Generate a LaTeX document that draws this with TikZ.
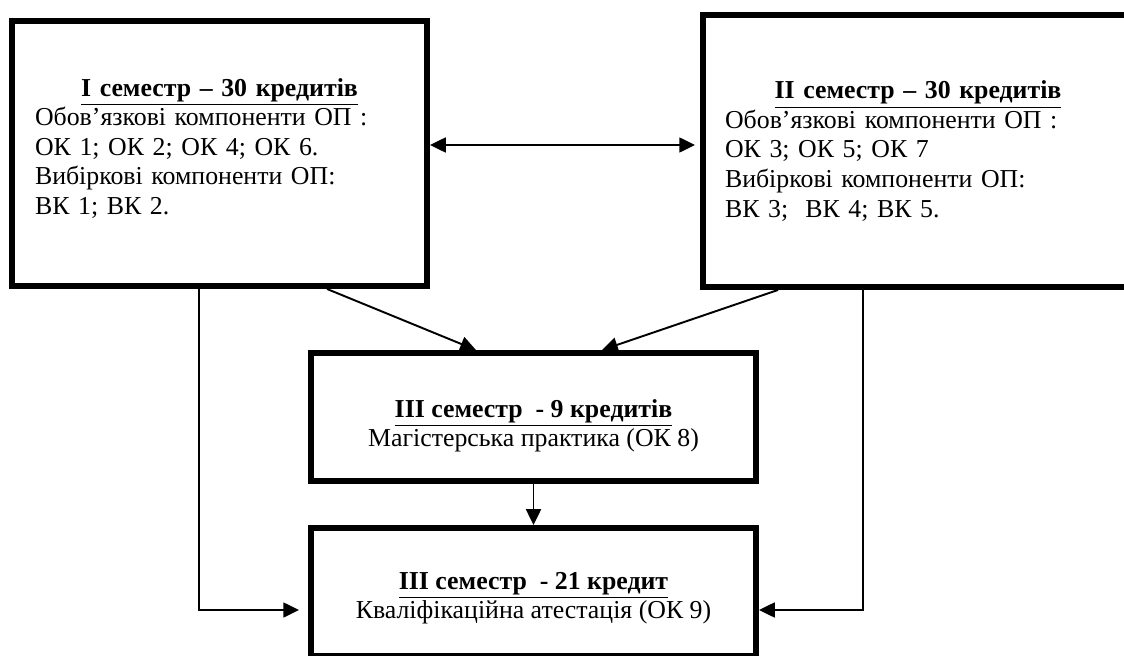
\documentclass[tikz,border=0pt]{standalone}
\usepackage{fontspec}
\setmainfont{Liberation Serif}
\usetikzlibrary{arrows.meta}
\tikzset{
  semtip/.tip={Triangle[length=9pt,width=8.5pt]},
  sembox/.style={draw, line width=3.4pt, inner sep=0pt, align=center},
  conn/.style={line width=1.1pt, -semtip},
}
\newcommand{\semtitle}[1]{\textbf{\underline{#1}}}
\newcommand{\semline}[1]{\hspace*{\fill}\semtitle{#1}\hspace*{\fill}\mbox{}}

\begin{document}
\begin{tikzpicture}[x=0.02cm,y=-0.02cm,font=\fontsize{14.7pt}{16.8pt}\selectfont]
    \clip (0,0) rectangle (1124,655);
    \node [sembox, minimum width=8.3cm, minimum height=5.3cm, text width=7.38cm, align=left] (sem1) at (219.5,153.5)
        {\semline{I семестр – 30 кредитів}\\
         Обов’язкові компоненти ОП :\\
         ОК 1; ОК 2; ОК 4; ОК 6.\\
         Вибіркові компоненти ОП:\\
         ВК 1; ВК 2.\rule[-8pt]{0pt}{8pt}};
    \node [sembox, minimum width=8.6cm, minimum height=5.44cm, text width=7.72cm, align=left] (sem2) at (918,151)
        {\semline{II семестр – 30 кредитів}\\
         Обов’язкові компоненти ОП :\\
         ОК 3; ОК 5; ОК 7\\
         Вибіркові компоненти ОП:\\
         ВК 3;~ ВК 4; ВК 5.};
    \node [sembox, minimum width=8.9cm, minimum height=2.56cm] (sem3) at (533.5,417)
        {\rule{0pt}{20pt}\semtitle{III семестр~ - 9 кредитів}\\ Магістерська практика (ОК 8)};
    \node [sembox, minimum width=8.9cm, minimum height=2.56cm] (sem4) at (533.5,592)
        {\rule{0pt}{17pt}\semtitle{III семестр~ - 21 кредит}\\ Кваліфікаційна атестація (ОК 9)};
    % connectors
    \draw [conn, semtip-semtip, shorten >=0.1cm] ([yshift=0.17cm]sem1.east) -- ([yshift=0.17cm]sem1.east -| sem2.west);
    \draw [conn] ([xshift=2.15cm]sem1.south) -- ([xshift=-1.15cm]sem3.north);
    \draw [conn] ([xshift=-2.8cm]sem2.south) -- ([xshift=1.37cm]sem3.north);
    \draw [conn] (sem3.south) -- (sem4.north);
    \draw [conn, shorten >=0.18cm] ([xshift=-0.41cm]sem1.south) |- ([yshift=-0.36cm]sem4.west);
    \draw [conn] ([xshift=-1.1cm]sem2.south) |- ([yshift=-0.36cm]sem4.east);
\end{tikzpicture}
\end{document}
